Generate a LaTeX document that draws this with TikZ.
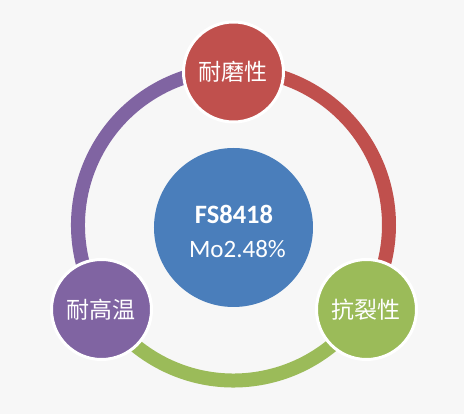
\documentclass[tikz,border=0pt]{standalone}
\usepackage{fontspec}
\setmainfont{Carlito}
\newfontfamily\cjk{Noto Sans CJK SC}
\definecolor{bgcol}{HTML}{F7F7F7}
\definecolor{wearred}{HTML}{C0504D}
\definecolor{crackgreen}{HTML}{9BBB59}
\definecolor{heatpurple}{HTML}{8064A2}
\definecolor{coreblue}{HTML}{4A7EBB}

\begin{document}
\begin{tikzpicture}[x=1pt, y=1pt,
  ring/.style={line width=14pt},
  prop/.style={circle, draw=white, line width=3pt, minimum size=100pt, inner sep=0pt,
               text=white, font=\cjk\fontsize{23}{23}\selectfont},
  core/.style={circle, fill=coreblue, minimum size=159pt, inner sep=0pt,
               text=white, align=center, font=\fontsize{25}{34}\selectfont}
]

\fill[bgcol] (-233.5,-189) rectangle (230.5,225);
\coordinate (hub) at (0,0);

% Ring
\draw[ring, wearred] (hub) ++(90:155.5) arc[start angle=90, end angle=-30, radius=155.5];
\draw[ring, crackgreen] (hub) ++(-30:155.5) arc[start angle=-30, end angle=-150, radius=155.5];
\draw[ring, heatpurple] (hub) ++(-150:155.5) arc[start angle=-150, end angle=-270, radius=155.5];

% Centre
\node[core] (steel) at (0,-2.5) {};
\node[text=white, align=center, font=\fontsize{25}{34}\selectfont] (grade) at (0.5,-6.5)
  {{\fontsize{26.5}{34}\selectfont\textbf{FS8418}}\\ \hspace*{7pt}Mo2.48\%};

% Properties
\node[prop, fill=wearred] (wear) at (0,153) {耐磨性};
\node[prop, fill=crackgreen] (crack) at (133,-84.5) {抗裂性};
\node[prop, fill=heatpurple] (heat) at (-132,-84.5) {耐高温};

\end{tikzpicture}
\end{document}
